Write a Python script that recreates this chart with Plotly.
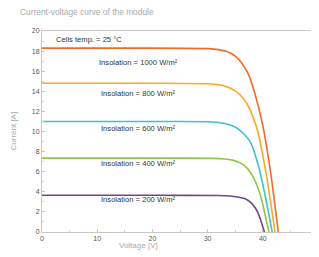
import plotly.graph_objects as go

# Data (voltage V, current A)
v_1000 = [0, 20, 30, 32, 33.5, 35, 36.2, 37.3, 38.5, 40, 41.5, 42.8]
i_1000 = [18.3, 18.3, 18.25, 18.15, 17.95, 17.5, 16.8, 15.8, 13.9, 10.6, 5.6, 0]
v_800 = [0, 20, 30, 32, 33.5, 35, 36.3, 37.5, 39, 40.7, 42.2]
i_800 = [14.8, 14.8, 14.75, 14.65, 14.45, 14.05, 13.4, 12.4, 10.2, 5.5, 0]
v_600 = [0, 20, 30, 32, 33.5, 35, 36.3, 37.8, 39.3, 40.7, 41.7]
i_600 = [11.0, 11.0, 10.97, 10.9, 10.75, 10.45, 9.9, 8.9, 6.4, 2.9, 0]
v_400 = [0, 20, 31, 33, 34.5, 35.8, 37, 38.3, 39.6, 41.1]
i_400 = [7.35, 7.35, 7.33, 7.27, 7.15, 6.9, 6.45, 5.4, 3.6, 0]
v_200 = [0, 20, 32, 34, 35.5, 36.8, 38, 39.1, 40.3]
i_200 = [3.65, 3.65, 3.63, 3.58, 3.48, 3.3, 2.85, 1.95, 0]

labels = ["Insolation = 1000 W/m²", "Insolation = 800 W/m²", "Insolation = 600 W/m²",
          "Insolation = 400 W/m²", "Insolation = 200 W/m²"]
label_y = [16.9, 13.8, 10.25, 6.85, 3.2]
colors = ["#F26B2A", "#F9A828", "#3EC2CB", "#93C83E", "#6E4A84"]

series = [(v_1000, i_1000), (v_800, i_800), (v_600, i_600), (v_400, i_400), (v_200, i_200)]

fig = go.Figure()
for (v, i), c in zip(series, colors):
    fig.add_trace(go.Scatter(x=v, y=i, mode="lines",
                             line=dict(color=c, width=1.6, shape="spline", smoothing=0.5),
                             showlegend=False, hoverinfo="skip"))

for t, y in zip(labels, label_y):
    fig.add_annotation(x=17.4, y=y, text=t, showarrow=False, xanchor="center",
                       font=dict(size=7.6, color="#333333", family="Liberation Sans"))
fig.add_annotation(x=2.2, y=19.2, text="Cells temp. = 25 °C", showarrow=False, xanchor="left",
                   font=dict(size=7.6, color="#333333", family="Liberation Sans"))

fig.add_annotation(x=17.4, xref="x", y=0, yref="paper", text="Voltage [V]",
                   showarrow=False, xanchor="center", yanchor="middle", yshift=-13,
                   font=dict(size=8, color="#aaaaaa", family="Liberation Sans"))
fig.add_annotation(x=0, xref="paper", y=0.5, yref="paper", text="Current [A]",
                   showarrow=False, textangle=-90, xanchor="center", yanchor="middle", xshift=-29,
                   font=dict(size=8, color="#aaaaaa", family="Liberation Sans"))

fig.update_layout(
    width=311, height=249,
    margin=dict(l=34, r=1, t=23, b=25, autoexpand=False),
    paper_bgcolor="white", plot_bgcolor="white",
    font=dict(family="Liberation Sans", size=7, color="#555555"),
    title=dict(text="Current-voltage curve of the module", x=12 / 311, xref="container",
               xanchor="left", y=0.995, yanchor="top", pad=dict(t=0, l=0),
               font=dict(size=8.4, color="#aaaaaa", family="Liberation Sans")),
    xaxis=dict(range=[0, 50], tickvals=[0, 10, 20, 30, 40, 50], showgrid=False, zeroline=False,
               automargin=False,
               showline=True, linecolor="#c8c8c8", linewidth=1, mirror=True,
               ticks="inside", ticklen=3, tickcolor="#c8c8c8",
               minor=dict(dtick=5, ticks="inside", ticklen=2, tickcolor="#d0d0d0"),
               tickfont=dict(size=7, color="#555555")),
    yaxis=dict(range=[0, 20], dtick=2, showgrid=False, zeroline=False,
               automargin=False,
               showline=True, linecolor="#c8c8c8", linewidth=1, mirror=True,
               ticks="inside", ticklen=3, tickcolor="#c8c8c8",
               minor=dict(dtick=1, ticks="inside", ticklen=2, tickcolor="#d0d0d0"),
               tickfont=dict(size=7, color="#555555")),
)

fig.write_html("out.html")
